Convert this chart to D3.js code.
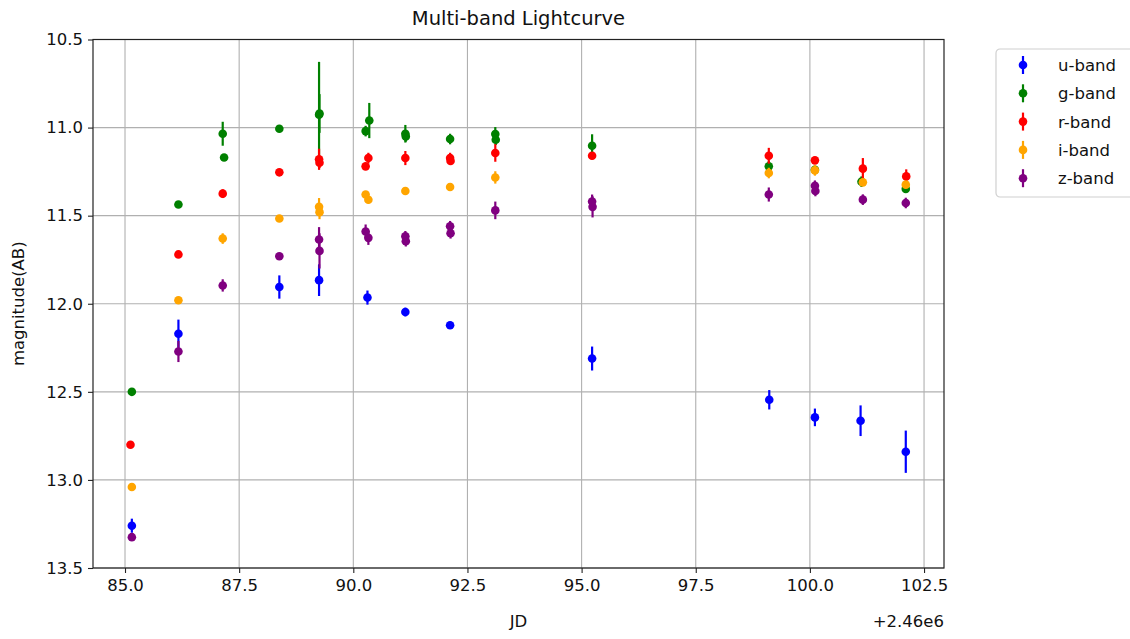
<!DOCTYPE html>
<html>
<head>
<meta charset="utf-8">
<script src="https://cdn.jsdelivr.net/npm/d3@7"></script>
<style>
  body { margin: 0; background: #fff; }
  text { font-family: "DejaVu Sans", sans-serif; fill: #111; }
</style>
</head>
<body>
<svg width="1130" height="639"></svg>
<script>
// u-band
const uJD  = [85.15, 86.17, 88.38, 89.25, 90.31, 91.14, 92.12, 95.23, 99.11, 100.11, 101.11, 102.10];
const uMag = [13.26, 12.17, 11.905, 11.866, 11.965, 12.047, 12.122, 12.311, 12.545, 12.645, 12.664, 12.84];
const uErr = [0.04, 0.08, 0.066, 0.09, 0.04, 0.025, 0.02, 0.068, 0.055, 0.05, 0.087, 0.12];
// g-band
const gJD  = [85.15, 86.17, 87.14, 87.17, 88.38, 89.25, 89.26, 90.27, 90.35, 91.14, 91.15, 92.12, 93.11, 93.12, 95.23, 99.10, 100.11, 101.13, 102.10];
const gMag = [12.50, 11.437, 11.035, 11.17, 11.007, 10.927, 10.92, 11.02, 10.96, 11.035, 11.05, 11.065, 11.037, 11.069, 11.103, 11.22, 11.24, 11.307, 11.348];
const gErr = [0.01, 0.015, 0.068, 0.01, 0.015, 0.30, 0.11, 0.03, 0.10, 0.05, 0.03, 0.03, 0.04, 0.03, 0.065, 0.03, 0.02, 0.03, 0.02];
// r-band
const rJD  = [85.12, 86.17, 87.14, 88.38, 89.25, 89.26, 90.27, 90.33, 91.14, 92.12, 92.13, 93.11, 95.23, 99.10, 100.11, 101.16, 102.11];
const rMag = [12.80, 11.72, 11.375, 11.254, 11.18, 11.20, 11.22, 11.173, 11.173, 11.173, 11.19, 11.144, 11.16, 11.16, 11.186, 11.233, 11.277];
const rErr = [0.01, 0.01, 0.025, 0.015, 0.06, 0.03, 0.02, 0.03, 0.04, 0.03, 0.02, 0.05, 0.02, 0.045, 0.02, 0.06, 0.04];
// i-band
const iJD  = [85.15, 86.17, 87.14, 88.38, 89.25, 89.26, 90.27, 90.33, 91.14, 92.12, 93.11, 99.10, 100.11, 101.16, 102.10];
const iMag = [13.04, 11.98, 11.63, 11.516, 11.45, 11.48, 11.38, 11.41, 11.36, 11.337, 11.283, 11.258, 11.243, 11.311, 11.324];
const iErr = [0.01, 0.015, 0.03, 0.015, 0.05, 0.04, 0.02, 0.02, 0.02, 0.02, 0.035, 0.03, 0.03, 0.02, 0.02];
// z-band
const zJD  = [85.15, 86.17, 87.14, 88.38, 89.25, 89.26, 90.27, 90.33, 91.14, 91.15, 92.12, 92.13, 93.11, 95.23, 95.24, 99.10, 100.11, 100.12, 101.16, 102.10];
const zMag = [13.325, 12.271, 11.896, 11.73, 11.635, 11.70, 11.59, 11.626, 11.617, 11.645, 11.56, 11.60, 11.47, 11.42, 11.45, 11.38, 11.33, 11.36, 11.409, 11.428];
const zErr = [0.02, 0.06, 0.035, 0.015, 0.07, 0.1, 0.04, 0.04, 0.03, 0.03, 0.03, 0.03, 0.05, 0.04, 0.06, 0.04, 0.03, 0.03, 0.03, 0.03];

const bandNames = ["u-band", "g-band", "r-band", "i-band", "z-band"];
const bandColors = ["#0000ff", "#008000", "#ff0000", "#ffa500", "#800080"];
const xTicks = [85.0, 87.5, 90.0, 92.5, 95.0, 97.5, 100.0, 102.5];
const yTicks = [10.5, 11.0, 11.5, 12.0, 12.5, 13.0, 13.5];

const bands = [
  [uJD, uMag, uErr], [gJD, gMag, gErr], [rJD, rMag, rErr], [iJD, iMag, iErr], [zJD, zMag, zErr]
].map((b, k) => ({
  name: bandNames[k],
  color: bandColors[k],
  points: b[0].map((jd, j) => ({ jd: jd, mag: b[1][j], err: b[2][j] }))
}));

const svg = d3.select("svg");
const plotL = 93, plotR = 944, plotT = 39.5, plotB = 568;

const x = d3.scaleLinear().domain([84.299, 102.937]).range([plotL, plotR]);
const y = d3.scaleLinear().domain([10.5, 13.5]).range([plotT, plotB]);

// grid
const grid = svg.append("g").attr("stroke", "#b0b0b0").attr("stroke-width", 1.1);
grid.selectAll("line.vx").data(xTicks).enter().append("line")
  .attr("x1", d => x(d)).attr("x2", d => x(d)).attr("y1", plotT).attr("y2", plotB);
grid.selectAll("line.hy").data(yTicks).enter().append("line")
  .attr("x1", plotL).attr("x2", plotR).attr("y1", d => y(d)).attr("y2", d => y(d));

// axes
const xAxis = svg.append("g").attr("transform", "translate(0," + plotB + ")")
  .call(d3.axisBottom(x).tickValues(xTicks).tickFormat(d3.format(".1f")).tickSizeOuter(0).tickSize(5).tickPadding(6));
const yAxis = svg.append("g").attr("transform", "translate(" + plotL + ",0)")
  .call(d3.axisLeft(y).tickValues(yTicks).tickFormat(d3.format(".1f")).tickSizeOuter(0).tickSize(5).tickPadding(5));
[xAxis, yAxis].forEach(a => {
  a.select(".domain").remove();
  a.selectAll(".tick line").attr("stroke", "#222").attr("stroke-width", 1.1);
  a.selectAll(".tick text").attr("font-size", 16.5).attr("font-family", "DejaVu Sans").attr("fill", "#222");
});

// data
bands.forEach(b => {
  const g = svg.append("g").attr("class", "band");
  g.selectAll("line").data(b.points).enter().append("line")
    .attr("x1", d => x(d.jd)).attr("x2", d => x(d.jd))
    .attr("y1", d => y(d.mag - d.err)).attr("y2", d => y(d.mag + d.err))
    .attr("stroke", b.color).attr("stroke-width", 2.2);
  g.selectAll("circle").data(b.points).enter().append("circle")
    .attr("cx", d => x(d.jd)).attr("cy", d => y(d.mag)).attr("r", 4.3)
    .attr("fill", b.color);
});

// frame
svg.append("rect").attr("x", plotL).attr("y", plotT)
  .attr("width", plotR - plotL).attr("height", plotB - plotT)
  .attr("fill", "none").attr("stroke", "#222").attr("stroke-width", 1.2);

// labels
svg.append("text").attr("x", (plotL + plotR) / 2).attr("y", 25)
  .attr("text-anchor", "middle").attr("font-size", 19.5).text("Multi-band Lightcurve");
svg.append("text").attr("x", (plotL + plotR) / 2).attr("y", 627)
  .attr("text-anchor", "middle").attr("font-size", 16.5).text("JD");
svg.append("text").attr("x", plotR).attr("y", 627)
  .attr("text-anchor", "end").attr("font-size", 16.5).text("+2.46e6");
svg.append("text").attr("transform", "translate(24," + ((plotT + plotB) / 2) + ") rotate(-90)")
  .attr("text-anchor", "middle").attr("font-size", 16.5).text("magnitude(AB)");

// legend
const legend = svg.append("g").attr("transform", "translate(996,49)");
legend.append("rect").attr("width", 160).attr("height", 148).attr("rx", 4)
  .attr("fill", "#fff").attr("stroke", "#d0d0d0").attr("stroke-width", 1.2);
const entry = legend.selectAll("g.entry").data(bands).enter().append("g")
  .attr("class", "entry")
  .attr("transform", (d, i) => "translate(0," + (16 + i * 28.3) + ")");
entry.append("line").attr("x1", 27).attr("x2", 27).attr("y1", -9).attr("y2", 9)
  .attr("stroke", d => d.color).attr("stroke-width", 2.2);
entry.append("circle").attr("cx", 27).attr("cy", 0).attr("r", 4.3).attr("fill", d => d.color);
entry.append("text").attr("x", 62).attr("y", 6).attr("font-size", 16.5).text(d => d.name);
</script>
</body>
</html>
